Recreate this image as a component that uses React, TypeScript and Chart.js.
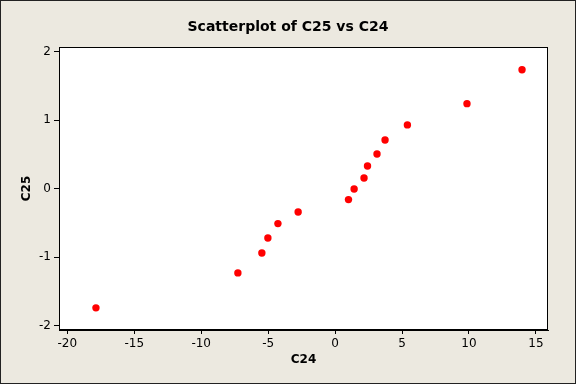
import React, { useEffect, useRef } from "react";
import { Chart, registerables } from "chart.js";

Chart.register(...registerables);

const TITLE = "Scatterplot of C25 vs C24";
const X_LABEL = "C24";
const Y_LABEL = "C25";
const c24: number[] = [-17.86, -7.26, -5.47, -5.02, -4.27, -2.76, 1.0, 1.42, 2.16, 2.42, 3.13, 3.73, 5.4, 9.85, 13.96];
const c25: number[] = [-1.74, -1.23, -0.94, -0.72, -0.51, -0.34, -0.16, -0.005, 0.155, 0.33, 0.506, 0.71, 0.93, 1.24, 1.735];
const X_MIN = -20.62;
const X_MAX = 15.9;
const Y_MIN = -2.063;
const Y_MAX = 2.067;

const BG = "#ece9e0";
const FONT = "'DejaVu Sans', Tahoma, sans-serif";

const framePlugin = {
  id: "frame",
  beforeDraw(chart: any) {
    const { ctx, width, height, chartArea } = chart;
    ctx.save();
    ctx.fillStyle = BG;
    ctx.fillRect(0, 0, width, height);
    ctx.fillStyle = "#ffffff";
    ctx.fillRect(chartArea.left, chartArea.top, chartArea.right - chartArea.left, chartArea.bottom - chartArea.top);
    ctx.restore();
  },
  afterDraw(chart: any) {
    const { ctx, width, height, chartArea } = chart;
    ctx.save();
    ctx.strokeStyle = "#000000";
    ctx.lineWidth = 1;
    ctx.strokeRect(
      Math.round(chartArea.left) + 0.5,
      Math.round(chartArea.top) + 0.5,
      Math.round(chartArea.right - chartArea.left) - 1,
      Math.round(chartArea.bottom - chartArea.top) - 1
    );
    ctx.strokeStyle = "#222222";
    ctx.strokeRect(0.5, 0.5, width - 1, height - 1);
    ctx.fillStyle = "#000000";
    ctx.font = "bold 14px " + FONT;
    ctx.textAlign = "center";
    ctx.textBaseline = "middle";
    ctx.fillText(TITLE, width / 2, 27);
    ctx.restore();
  },
};

export default function App() {
  const ref = useRef<HTMLCanvasElement>(null);
  useEffect(() => {
    if (!ref.current) return;
    const points = c24.map((x, i) => ({ x, y: c25[i] }));
    const chart = new Chart(ref.current, {
      type: "scatter",
      data: {
        datasets: [
          {
            data: points,
            backgroundColor: "#ff0000",
            borderColor: "#ff0000",
            borderWidth: 0,
            pointRadius: 3.7,
          },
        ],
      },
      options: {
        animation: false,
        responsive: false,
        layout: { padding: { left: 0, right: 28, top: 47, bottom: 0 } },
        plugins: {
          legend: { display: false },
          title: { display: false },
          tooltip: { enabled: false },
        },
        scales: {
          x: {
            type: "linear",
            min: X_MIN,
            max: X_MAX,
            afterFit: (s: any) => {
              s.height = 54;
            },
            ticks: {
              stepSize: 5,
              includeBounds: false,
              color: "#000000",
              font: { family: FONT, size: 12 },
              padding: 3,
              maxRotation: 0,
            },
            grid: { drawOnChartArea: false, drawTicks: true, tickLength: 4, color: "#000000" },
            border: { color: "#000000", width: 1 },
            title: {
              display: true,
              text: X_LABEL,
              color: "#000000",
              font: { family: FONT, size: 12, weight: "bold" },
              padding: { top: 4, bottom: 17 },
            },
          },
          y: {
            type: "linear",
            min: Y_MIN,
            max: Y_MAX,
            afterFit: (s: any) => {
              s.width = 59;
            },
            ticks: {
              stepSize: 1,
              includeBounds: false,
              color: "#000000",
              font: { family: FONT, size: 12 },
              padding: 3,
            },
            grid: { drawOnChartArea: false, drawTicks: true, tickLength: 5, color: "#000000" },
            border: { color: "#000000", width: 1 },
            title: {
              display: true,
              text: Y_LABEL,
              color: "#000000",
              font: { family: FONT, size: 12, weight: "bold" },
              padding: { top: 20, bottom: 4 },
            },
          },
        },
      },
      plugins: [framePlugin],
    } as any);
    return () => chart.destroy();
  }, []);
  return (
    <div style={{ position: "fixed", left: 0, top: 0, width: 576, height: 384 }}>
      <canvas ref={ref} width={576} height={384} style={{ display: "block" }} />
    </div>
  );
}
